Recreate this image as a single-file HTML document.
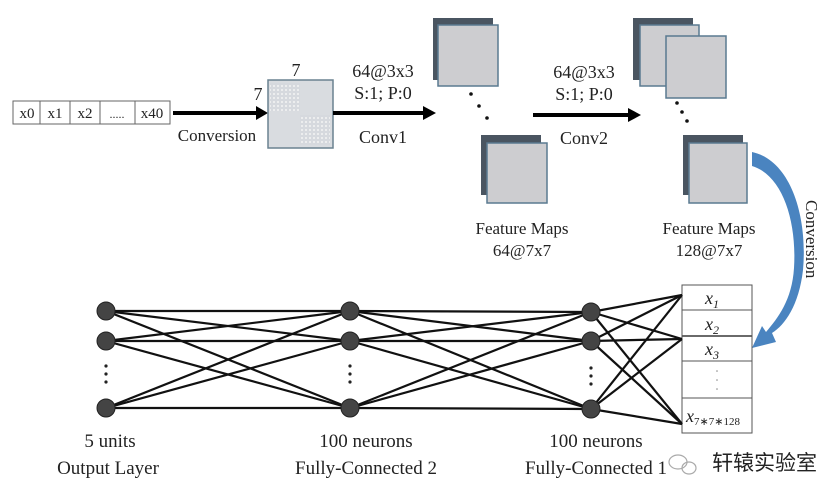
<!DOCTYPE html>
<html><head><meta charset="utf-8"><style>
html,body{margin:0;padding:0;background:#fff;}
svg{display:block;}
text{font-family:"Liberation Serif",serif;fill:#222;}
</style></head><body>
<svg width="840" height="500" viewBox="0 0 840 500" xmlns="http://www.w3.org/2000/svg">
<defs>
<pattern id="dots" width="4" height="4" patternUnits="userSpaceOnUse"><rect width="4" height="4" fill="#d6d9de"/><circle cx="2" cy="2" r="1" fill="#f4f4f4"/></pattern>
</defs>
<rect x="13" y="101" width="157" height="23" fill="#fff" stroke="#666" stroke-width="1"/>
<g stroke="#666"><line x1="40" y1="101" x2="40" y2="124"/><line x1="70" y1="101" x2="70" y2="124"/><line x1="100" y1="101" x2="100" y2="124"/><line x1="135" y1="101" x2="135" y2="124"/></g>
<g font-size="15" text-anchor="middle"><text x="27" y="118">x0</text><text x="55" y="118">x1</text><text x="85" y="118">x2</text><text x="117" y="118" fill="#888" font-size="12">.....</text><text x="152" y="118">x40</text></g>
<line x1="173" y1="113" x2="258" y2="113" stroke="#000" stroke-width="4"/>
<polygon points="256,106 268,113 256,120" fill="#000"/>
<text x="217" y="141" font-size="17" text-anchor="middle">Conversion</text>
<rect x="268" y="80" width="65" height="68" fill="#d9dce0" stroke="#6a8290" stroke-width="1.5"/>
<rect x="270" y="83" width="30" height="28" fill="url(#dots)"/>
<rect x="300" y="115" width="30" height="30" fill="url(#dots)"/>
<text x="296" y="76" font-size="18" text-anchor="middle">7</text>
<text x="258" y="100" font-size="18" text-anchor="middle">7</text>
<line x1="333" y1="113" x2="425" y2="113" stroke="#000" stroke-width="4"/>
<polygon points="423,106 436,113 423,120" fill="#000"/>
<text x="383" y="77" font-size="18" text-anchor="middle">64@3x3</text>
<text x="383" y="99" font-size="18" text-anchor="middle">S:1; P:0</text>
<text x="383" y="143" font-size="18" text-anchor="middle">Conv1</text>
<rect x="433" y="18" width="60" height="62" fill="#4a5561"/>
<rect x="438" y="25" width="60" height="61" fill="#cdcdd0" stroke="#5a7a90" stroke-width="1.5"/>
<g fill="#111"><circle cx="471" cy="94" r="1.8"/><circle cx="479" cy="106" r="1.8"/><circle cx="487" cy="118" r="1.8"/></g>
<rect x="481" y="135" width="60" height="60" fill="#4a5561"/>
<rect x="487" y="143" width="60" height="60" fill="#cdcdd0" stroke="#5a7a90" stroke-width="1.5"/>
<text x="522" y="234" font-size="17" text-anchor="middle">Feature Maps</text>
<text x="522" y="256" font-size="17" text-anchor="middle">64@7x7</text>
<line x1="533" y1="115" x2="630" y2="115" stroke="#000" stroke-width="4"/>
<polygon points="628,108 641,115 628,122" fill="#000"/>
<text x="584" y="78" font-size="18" text-anchor="middle">64@3x3</text>
<text x="584" y="100" font-size="18" text-anchor="middle">S:1; P:0</text>
<text x="584" y="144" font-size="18" text-anchor="middle">Conv2</text>
<rect x="633" y="18" width="60" height="62" fill="#4a5561"/>
<rect x="640" y="25" width="59" height="61" fill="#cdcdd0" stroke="#5a7a90" stroke-width="1.5"/>
<rect x="666" y="36" width="60" height="62" fill="#cdcdd0" stroke="#5a7a90" stroke-width="1.5"/>
<g fill="#111"><circle cx="677" cy="103" r="1.8"/><circle cx="682" cy="112" r="1.8"/><circle cx="687" cy="121" r="1.8"/></g>
<rect x="683" y="135" width="60" height="60" fill="#4a5561"/>
<rect x="689" y="143" width="58" height="60" fill="#cdcdd0" stroke="#5a7a90" stroke-width="1.5"/>
<text x="709" y="234" font-size="17" text-anchor="middle">Feature Maps</text>
<text x="709" y="256" font-size="17" text-anchor="middle">128@7x7</text>
<path d="M752,152 C790,160 808,215 803,270 C799,305 785,325 772,333 L776,342 L752,348 L762,326 L766,332 C778,318 792,300 794,268 C797,220 782,175 752,166 Z" fill="#4a84c0"/>
<text x="0" y="0" font-size="17" transform="translate(806,200) rotate(90)">Conversion</text>
<rect x="682" y="285" width="70" height="148" fill="#fff" stroke="#555" stroke-width="1"/>
<g stroke="#555"><line x1="682" y1="310" x2="752" y2="310"/><line x1="682" y1="336" x2="752" y2="336" stroke-width="1.8"/><line x1="682" y1="361" x2="752" y2="361"/><line x1="682" y1="398" x2="752" y2="398"/></g>
<g font-style="italic" font-size="18" text-anchor="middle" fill="#333">
<text x="712" y="304">x<tspan font-size="12" dy="4">1</tspan></text>
<text x="712" y="330">x<tspan font-size="12" dy="4">2</tspan></text>
<text x="712" y="355">x<tspan font-size="12" dy="4">3</tspan></text>
<text x="713" y="422">x<tspan font-size="11" dy="3" font-style="normal">7∗7∗128</tspan></text>
</g>
<g fill="#888"><circle cx="717" cy="371" r="0.8"/><circle cx="717" cy="380" r="0.8"/><circle cx="717" cy="389" r="0.8"/></g>
<g stroke="#111" stroke-width="2.2">
<line x1="106" y1="311" x2="350" y2="311"/><line x1="106" y1="311" x2="350" y2="341"/><line x1="106" y1="311" x2="350" y2="408"/>
<line x1="106" y1="341" x2="350" y2="311"/><line x1="106" y1="341" x2="350" y2="341"/><line x1="106" y1="341" x2="350" y2="408"/>
<line x1="106" y1="408" x2="350" y2="311"/><line x1="106" y1="408" x2="350" y2="341"/><line x1="106" y1="408" x2="350" y2="408"/>
<line x1="350" y1="311" x2="591" y2="312"/><line x1="350" y1="311" x2="591" y2="341"/><line x1="350" y1="311" x2="591" y2="409"/>
<line x1="350" y1="341" x2="591" y2="312"/><line x1="350" y1="341" x2="591" y2="341"/><line x1="350" y1="341" x2="591" y2="409"/>
<line x1="350" y1="408" x2="591" y2="312"/><line x1="350" y1="408" x2="591" y2="341"/><line x1="350" y1="408" x2="591" y2="409"/>
<line x1="591" y1="312" x2="682" y2="295"/><line x1="591" y1="312" x2="682" y2="339"/><line x1="591" y1="312" x2="682" y2="424"/>
<line x1="591" y1="341" x2="682" y2="295"/><line x1="591" y1="341" x2="682" y2="339"/><line x1="591" y1="341" x2="682" y2="424"/>
<line x1="591" y1="409" x2="682" y2="295"/><line x1="591" y1="409" x2="682" y2="339"/><line x1="591" y1="409" x2="682" y2="424"/>
</g>
<g fill="#444" stroke="#222" stroke-width="1">
<circle cx="106" cy="311" r="9"/><circle cx="106" cy="341" r="9"/><circle cx="106" cy="408" r="9"/>
<circle cx="350" cy="311" r="9"/><circle cx="350" cy="341" r="9"/><circle cx="350" cy="408" r="9"/>
<circle cx="591" cy="312" r="9"/><circle cx="591" cy="341" r="9"/><circle cx="591" cy="409" r="9"/>
</g>
<g fill="#222"><circle cx="106" cy="366" r="1.6"/><circle cx="106" cy="374" r="1.6"/><circle cx="106" cy="382" r="1.6"/>
<circle cx="350" cy="366" r="1.6"/><circle cx="350" cy="374" r="1.6"/><circle cx="350" cy="382" r="1.6"/>
<circle cx="591" cy="368" r="1.6"/><circle cx="591" cy="376" r="1.6"/><circle cx="591" cy="384" r="1.6"/></g>
<g font-size="19" text-anchor="middle">
<text x="110" y="447">5 units</text><text x="108" y="474">Output Layer</text>
<text x="366" y="447">100 neurons</text><text x="366" y="474">Fully-Connected 2</text>
<text x="596" y="447">100 neurons</text><text x="596" y="474">Fully-Connected 1</text>
</g>
<g fill="none" stroke="#aaa" stroke-width="1.2"><ellipse cx="678" cy="462" rx="9" ry="7"/><ellipse cx="689" cy="468" rx="7" ry="6"/></g>
<text x="712" y="470" font-size="21" fill="#999" style="font-family:'Liberation Sans','Noto Sans CJK SC',sans-serif">轩辕实验室</text>
</svg>
</body></html>
